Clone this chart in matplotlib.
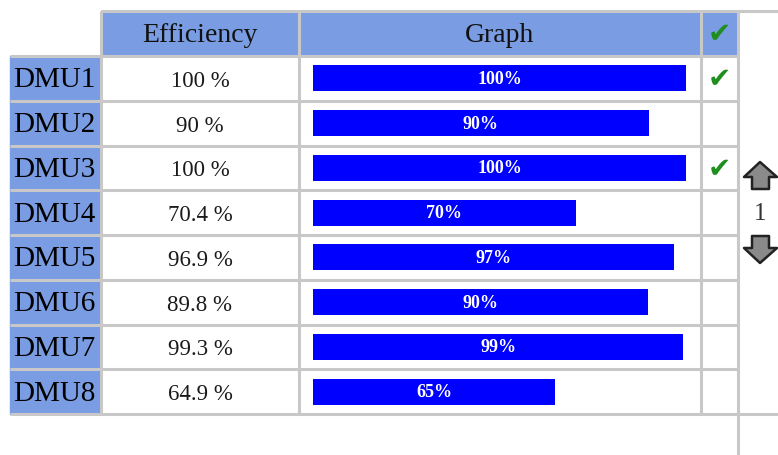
import numpy as np
import matplotlib
matplotlib.use("Agg")
import matplotlib.pyplot as plt
from matplotlib.patches import Rectangle, Polygon

# data
dmus = ["DMU1", "DMU2", "DMU3", "DMU4", "DMU5", "DMU6", "DMU7", "DMU8"]
efficiency = [100, 90, 100, 70.4, 96.9, 89.8, 99.3, 64.9]
headers = ["Efficiency", "Graph"]
page = "1"

BLUE_HEAD = "#7a9ce2"
GRID = "#c8c8c8"
BAR = "#0000ff"
GREEN = "#1e8f1e"
SERIF = "Liberation Serif"

# layout in pixels
W, H = 778, 456
top, head_bot, bottom = 12, 57, 415
x_lab0, x_lab1 = 10, 101
x_eff1 = 299
x_graph1 = 701
x_chk1 = 738
bar_x0, bar_full = 313, 373
row_h = (bottom - head_bot) / len(dmus)

fig = plt.figure(figsize=(W / 100, H / 100), dpi=100)
ax = fig.add_axes([0, 0, 1, 1])
ax.set_xlim(0, W)
ax.set_ylim(H, 0)
ax.axis("off")

# backgrounds
ax.add_patch(Rectangle((x_lab1, top), x_chk1 - x_lab1, head_bot - top, color=BLUE_HEAD, zorder=0))
ax.add_patch(Rectangle((x_lab0, head_bot), x_lab1 - x_lab0, bottom - head_bot, color=BLUE_HEAD, zorder=0))

# grid lines
lw = 2.2
ax.hlines(top, x_lab1, W, color=GRID, lw=lw)
for k in range(len(dmus)):
    ax.hlines(head_bot + k * row_h, x_lab0, x_chk1, color=GRID, lw=lw)
ax.hlines(bottom, x_lab0, W, color=GRID, lw=lw)
for xv in [x_lab1, x_eff1, x_graph1]:
    ax.vlines(xv, top, bottom, color=GRID, lw=lw)
ax.vlines(x_chk1, top, H, color=GRID, lw=lw)

# header
ax.text((x_lab1 + x_eff1) / 2, (top + head_bot) / 2 + 1, headers[0], family=SERIF,
        fontsize=20, ha="center", va="center", color="#111111")
ax.text((x_eff1 + x_graph1) / 2, (top + head_bot) / 2 + 1, headers[1], family=SERIF,
        fontsize=20, ha="center", va="center", color="#111111")
ax.text((x_graph1 + x_chk1) / 2, (top + head_bot) / 2, "\u2714", family="DejaVu Sans",
        fontsize=20, ha="center", va="center", color=GREEN)

# rows
centers = head_bot + row_h * (np.arange(len(dmus)) + 0.5)
widths = [e / 100 * bar_full for e in efficiency]
ax.barh(centers, widths, left=bar_x0, height=26, color=BAR, zorder=2)

for i, (name, e) in enumerate(zip(dmus, efficiency)):
    cy = centers[i]
    ax.text((x_lab0 + x_lab1) / 2 - 1, cy + 1, name, family=SERIF, fontsize=21,
            ha="center", va="center", color="black")
    val = f"{e:g} %"
    ax.text((x_lab1 + x_eff1) / 2, cy + 2, val, family=SERIF, fontsize=16.5,
            ha="center", va="center", color="#1a1a1a")
    ax.text(bar_x0 + widths[i] / 2, cy, f"{round(e)}%", family=SERIF, fontsize=13,
            ha="center", va="center", color="white", fontweight="bold", zorder=3)
    if e >= 100:
        ax.text((x_graph1 + x_chk1) / 2, cy, "\u2714", family="DejaVu Sans",
                fontsize=20, ha="center", va="center", color=GREEN)

# pager arrows
ax_c = 760
up = [(ax_c, 163), (777, 178), (769, 178), (769, 190), (752, 190), (752, 178), (744, 178)]
down = [(ax_c, 264), (777, 249), (769, 249), (769, 237), (752, 237), (752, 249), (744, 249)]
for pts in (up, down):
    ax.add_patch(Polygon(pts, closed=True, facecolor="#8a8a8a", edgecolor="#222222",
                         lw=1.8, joinstyle="round", zorder=3))
ax.text(ax_c, 214, page, family=SERIF, fontsize=18, ha="center", va="center", color="#333333")

fig.savefig("out.png", dpi=100)
